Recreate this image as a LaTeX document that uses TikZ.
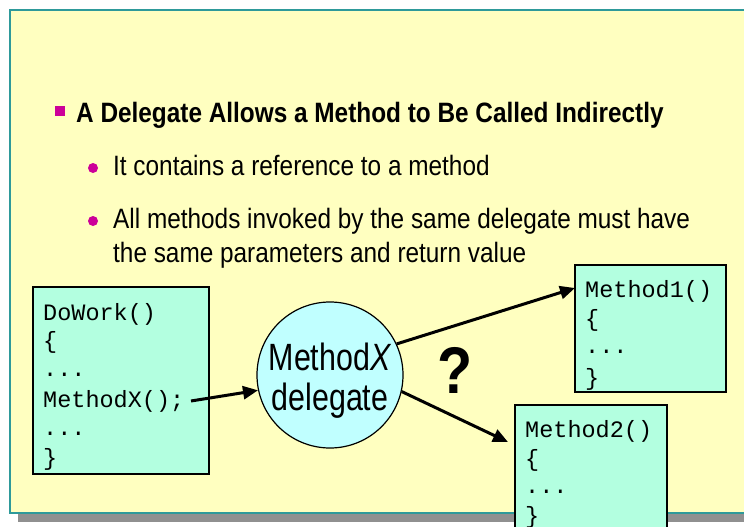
\documentclass[tikz,border=0pt]{standalone}
\usepackage{fontspec}
\setmainfont{Liberation Sans}
\newfontfamily\narrowfont[FakeStretch=0.87]{Liberation Sans}
\newfontfamily\circfont[FakeStretch=0.80]{Liberation Sans}
\newfontfamily\codefont{Liberation Mono}
\usetikzlibrary{arrows.meta}
\definecolor{panelfill}{HTML}{FFFFC0}
\definecolor{panelline}{HTML}{2E9A9A}
\definecolor{shadowgray}{HTML}{909090}
\definecolor{codefill}{HTML}{B3FFE0}
\definecolor{circfill}{HTML}{C0FFFF}
\definecolor{bulletmag}{HTML}{CC0099}
\tikzset{
  codebox/.style={draw=black, line width=1.2pt, fill=codefill, rectangle, inner sep=0pt},
  codeline/.style={anchor=base west, inner sep=0pt, font=\codefont\fontsize{23.5}{23.5}\selectfont},
  bigarrow/.style={line width=3pt, -{Triangle[length=15pt,width=13pt]}},
  titletext/.style={anchor=base west, inner sep=0pt, font=\narrowfont\bfseries\fontsize{28}{28}\selectfont},
  subtext/.style={anchor=base west, inner sep=0pt, font=\narrowfont\fontsize{28}{34}\selectfont},
  dotbullet/.style={fill=bulletmag, circle, minimum size=10pt, inner sep=0pt},
}
\begin{document}
\begin{tikzpicture}[x=1pt,y=-1pt]
\useasboundingbox (0,0) rectangle (744,527);
% panel with shadow
\fill[shadowgray] (18,20) rectangle (760,522);
\filldraw[fill=panelfill, draw=panelline, line width=1.5pt] (10,10) rectangle (760,513);
% bullets
\node[fill=bulletmag, minimum size=10pt, inner sep=0pt] (b1) at (59.5,111) {};
\node[titletext] (t1) at (76,122) {A Delegate Allows a Method to Be Called Indirectly};
\node[dotbullet] (b2) at (93,168) {};
\node[subtext] (t2) at (113,175) {It contains a reference to a method};
\node[dotbullet] (b3) at (93,221) {};
\node[subtext] (t3) at (113,228) {All methods invoked by the same delegate must have};
\node[subtext] (t4) at (113,262) {the same parameters and return value};
% left code box
\node[codebox, minimum width=176pt, minimum height=187pt] (dw) at (121,380.5) {};
\node[codeline] (dw1) at (43,320) {DoWork()};
\node[codeline] (dw2) at (43,348) {\{};
\node[codeline] (dw3) at (43,376) {...};
\node[codeline] (dw4) at (43,407) {MethodX();};
\node[codeline] (dw5) at (43,435) {...};
\node[codeline] (dw6) at (43,465) {\}};
% circle
\node[circle, draw=black, line width=1.2pt, fill=circfill, minimum size=146pt, inner sep=0pt] (dlg) at (330,375) {};
\node[anchor=base, inner sep=0pt, font=\circfont\fontsize{38}{38}\selectfont] (dlg1) at (330,370) {Method\textit{X}};
\node[anchor=base, inner sep=0pt, font=\circfont\fontsize{38}{38}\selectfont] (dlg2) at (330,410) {delegate};
% method boxes
\node[codebox, minimum width=151pt, minimum height=127pt] (m1) at (650.5,328.5) {};
\node[codeline] (m11) at (585,297) {Method1()};
\node[codeline] (m12) at (585,326) {\{};
\node[codeline] (m13) at (585,353) {...};
\node[codeline] (m14) at (585,385) {\}};
\node[codebox, minimum width=152pt, minimum height=140pt] (m2) at (591,475) {};
\node[codeline] (m21) at (525,437) {Method2()};
\node[codeline] (m22) at (525,466) {\{};
\node[codeline] (m23) at (525,493) {...};
\node[codeline] (m24) at (525,523) {\}};
% question mark
\node[anchor=base, font=\narrowfont\bfseries\fontsize{66}{66}\selectfont, inner sep=0pt] (q) at (455,393) {?};
% arrows
\coordinate (a1s) at (191,401);
\coordinate (a2e) at (575,288);
\coordinate (a3e) at (508,442);
\draw[bigarrow] (a1s) -- (dlg.{192});
\draw[bigarrow] (dlg.{25}) -- (a2e);
\draw[bigarrow] (dlg.{-13}) -- (a3e);
\end{tikzpicture}
\end{document}
